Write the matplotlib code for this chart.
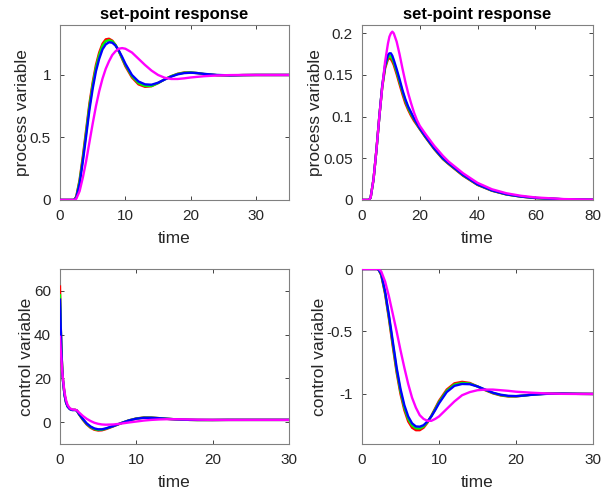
import matplotlib
matplotlib.use('Agg')
import matplotlib.pyplot as plt

plt.rcParams['font.family'] = ['Liberation Sans', 'DejaVu Sans']
plt.rcParams['font.size'] = 11

# colours of the four tunings, drawn in this order
colours = ['#ff0000', '#00ff00', '#0000ff', '#ff00ff']

# top left: set-point response, process variable
t_tl = [0, 2, 2.2, 2.5, 3, 3.5, 4, 4.5, 5, 5.5, 6, 6.5, 7, 7.5, 8, 8.5, 9, 9.5, 10,
        11, 12, 13, 14, 15, 16, 17, 18, 19, 20, 21, 22, 24, 26, 28, 30, 35]
pv_red = [0, 0, 0, 0.03, 0.16, 0.35, 0.56, 0.77, 0.94, 1.08, 1.18, 1.25, 1.285, 1.29, 1.275, 1.24, 1.19, 1.13, 1.07,
          0.98, 0.925, 0.905, 0.91, 0.935, 0.965, 0.99, 1.01, 1.02, 1.02, 1.015, 1.007, 0.998, 0.997, 0.999, 1.0, 1.0]
pv_green = [0, 0, 0, 0.025, 0.15, 0.33, 0.54, 0.75, 0.92, 1.06, 1.16, 1.235, 1.27, 1.278, 1.27, 1.24, 1.19, 1.135, 1.08,
            0.99, 0.935, 0.912, 0.912, 0.935, 0.965, 0.99, 1.008, 1.018, 1.02, 1.015, 1.008, 0.999, 0.997, 0.999, 1.0, 1.0]
pv_blue = [0, 0, 0, 0.02, 0.13, 0.31, 0.51, 0.72, 0.89, 1.03, 1.13, 1.205, 1.245, 1.262, 1.258, 1.235, 1.195, 1.145, 1.09,
           1.0, 0.948, 0.925, 0.922, 0.938, 0.963, 0.987, 1.005, 1.015, 1.018, 1.015, 1.009, 1.0, 0.997, 0.999, 1.0, 1.0]
pv_magenta = [0, 0, 0, 0.01, 0.07, 0.18, 0.31, 0.46, 0.61, 0.75, 0.87, 0.97, 1.05, 1.11, 1.16, 1.19, 1.21, 1.215, 1.21,
              1.18, 1.13, 1.08, 1.035, 1.0, 0.978, 0.968, 0.968, 0.973, 0.98, 0.985, 0.99, 0.996, 0.999, 1.0, 1.0, 1.0]

# top right: second set of process variable responses
t_tr = [0, 2.5, 3, 4, 5, 6, 7, 8, 9, 9.5, 10, 10.5, 11, 12, 13, 14, 15, 16, 17, 18, 19, 20,
        22, 25, 28, 30, 35, 40, 45, 50, 55, 60, 70, 80]
pv2_red = [0, 0, 0.003, 0.025, 0.06, 0.1, 0.135, 0.158, 0.169, 0.17, 0.169, 0.166, 0.162, 0.151, 0.139, 0.127,
           0.116, 0.108, 0.101, 0.095, 0.09, 0.085, 0.075, 0.061, 0.049, 0.043, 0.029, 0.018, 0.011, 0.0065,
           0.004, 0.0022, 0.0007, 0.0002]
pv2_green = [0, 0, 0.003, 0.025, 0.06, 0.1, 0.136, 0.16, 0.171, 0.173, 0.172, 0.169, 0.165, 0.154, 0.142, 0.13,
             0.119, 0.11, 0.103, 0.097, 0.091, 0.0855, 0.0755, 0.0615, 0.0495, 0.0435, 0.0295, 0.0183, 0.0112,
             0.0067, 0.004, 0.0023, 0.0007, 0.0002]
pv2_blue = [0, 0, 0.003, 0.025, 0.06, 0.1, 0.137, 0.162, 0.174, 0.176, 0.176, 0.173, 0.168, 0.157, 0.145, 0.132,
            0.121, 0.112, 0.105, 0.098, 0.092, 0.086, 0.076, 0.062, 0.05, 0.044, 0.03, 0.0186, 0.0114, 0.0068,
            0.0041, 0.0024, 0.0008, 0.0002]
pv2_magenta = [0, 0, 0.003, 0.025, 0.06, 0.1, 0.135, 0.166, 0.188, 0.196, 0.2, 0.202, 0.2, 0.19, 0.175, 0.158,
               0.142, 0.128, 0.116, 0.105, 0.096, 0.089, 0.079, 0.065, 0.053, 0.046, 0.032, 0.0205, 0.0128,
               0.008, 0.005, 0.003, 0.001, 0.0003]

# bottom left: control variable
t_bl = [0, 0.05, 0.1, 0.2, 0.3, 0.4, 0.6, 0.8, 1.0, 1.3, 1.6, 2.0, 2.2, 2.5, 3, 3.5, 4, 4.5, 5, 5.5, 6,
        7, 8, 9, 10, 11, 12, 13, 14, 15, 16, 17, 18, 20, 22, 25, 30]
cv_red = [62, 52.5, 44, 32, 24, 19, 12.5, 9, 7.2, 6, 5.6, 5.6, 5.3, 3.5, 1.0, -1.1, -2.6, -3.5, -3.85, -3.75, -3.25,
          -1.95, -0.55, 0.75, 1.65, 2.1, 2.05, 1.8, 1.5, 1.28, 1.1, 1.0, 0.95, 0.95, 1.0, 1.0, 1.0]
cv_green = [58, 52, 43.8, 31.8, 23.8, 18.9, 12.4, 9, 7.15, 5.95, 5.55, 5.55, 5.3, 3.6, 1.2, -0.85, -2.3, -3.2, -3.6,
            -3.5, -3.05, -1.85, -0.5, 0.72, 1.6, 2.02, 2.0, 1.78, 1.5, 1.29, 1.11, 1.01, 0.96, 0.95, 1.0, 1.0, 1.0]
cv_blue = [56, 51, 43.5, 31.5, 23.5, 18.7, 12.3, 8.9, 7.1, 5.9, 5.5, 5.5, 5.3, 3.7, 1.4, -0.6, -2.0, -2.9, -3.3,
           -3.3, -2.9, -1.8, -0.5, 0.7, 1.55, 1.95, 1.95, 1.75, 1.5, 1.3, 1.12, 1.02, 0.97, 0.96, 1.0, 1.0, 1.0]
cv_magenta = [39, 36, 33, 28, 23, 19.5, 13.5, 10, 7.8, 6.3, 5.8, 5.6, 5.4, 4.4, 2.8, 1.5, 0.5, -0.3, -0.8, -1.1, -1.2,
              -1.1, -0.7, -0.2, 0.25, 0.7, 1.0, 1.2, 1.3, 1.3, 1.25, 1.18, 1.1, 1.0, 0.98, 1.0, 1.0]

# bottom right: second control variable
t_br = [0, 2, 2.2, 2.5, 3, 3.5, 4, 4.5, 5, 5.5, 6, 6.5, 7, 7.5, 8, 8.5, 9, 9.5, 10,
        11, 12, 13, 14, 15, 16, 17, 18, 19, 20, 21, 22, 24, 26, 28, 30]
cv2_red = [0, 0, -0.01, -0.05, -0.2, -0.4, -0.62, -0.83, -1.0, -1.13, -1.22, -1.27, -1.29, -1.29, -1.27, -1.23,
           -1.175, -1.115, -1.055, -0.965, -0.915, -0.903, -0.912, -0.94, -0.97, -0.995, -1.012, -1.02, -1.02,
           -1.013, -1.005, -0.997, -0.997, -0.999, -1.0]
cv2_green = [0, 0, -0.01, -0.045, -0.19, -0.385, -0.6, -0.81, -0.98, -1.11, -1.2, -1.252, -1.275, -1.276, -1.26,
             -1.225, -1.178, -1.122, -1.065, -0.975, -0.925, -0.912, -0.917, -0.94, -0.967, -0.992, -1.009,
             -1.018, -1.018, -1.013, -1.006, -0.998, -0.997, -0.999, -1.0]
cv2_blue = [0, 0, -0.01, -0.04, -0.18, -0.37, -0.58, -0.79, -0.96, -1.09, -1.18, -1.235, -1.26, -1.262, -1.25,
            -1.22, -1.18, -1.13, -1.075, -0.985, -0.935, -0.92, -0.922, -0.94, -0.965, -0.99, -1.006, -1.015,
            -1.017, -1.013, -1.007, -0.999, -0.997, -0.999, -1.0]
cv2_magenta = [0, 0, 0, -0.02, -0.1, -0.22, -0.36, -0.5, -0.65, -0.79, -0.92, -1.03, -1.11, -1.17, -1.2, -1.215,
               -1.215, -1.2, -1.18, -1.12, -1.06, -1.01, -0.985, -0.97, -0.965, -0.965, -0.97, -0.975, -0.982,
               -0.986, -0.99, -0.996, -0.999, -1.0, -1.0]

panels = [
    (t_tl, [pv_red, pv_green, pv_blue, pv_magenta], (0, 35), (0, 1.4), [0, 10, 20, 30], [0, 0.5, 1],
     ['0', '0.5', '1'], 'process variable', 'set-point response'),
    (t_tr, [pv2_red, pv2_green, pv2_blue, pv2_magenta], (0, 80), (0, 0.21), [0, 20, 40, 60, 80],
     [0, 0.05, 0.1, 0.15, 0.2], ['0', '0.05', '0.1', '0.15', '0.2'], 'process variable', 'set-point response'),
    (t_bl, [cv_red, cv_green, cv_blue, cv_magenta], (0, 30), (-10, 70), [0, 10, 20, 30], [0, 20, 40, 60],
     ['0', '20', '40', '60'], 'control variable', None),
    (t_br, [cv2_red, cv2_green, cv2_blue, cv2_magenta], (0, 30), (-1.4, 0), [0, 10, 20, 30], [-1, -0.5, 0],
     ['-1', '-0.5', '0'], 'control variable', None),
]

# axes boxes in figure fractions
boxes = [
    [0.098, 0.592, 0.374, 0.357],
    [0.5915, 0.592, 0.3775, 0.357],
    [0.098, 0.094, 0.374, 0.357],
    [0.5915, 0.094, 0.3775, 0.357],
]

fig = plt.figure(figsize=(6.12, 4.9), dpi=100)
frame = '#262626'

for box, (t, series, xl, yl, xt, yt, ytl, ylab, title) in zip(boxes, panels):
    ax = fig.add_axes(box)
    for y, c in zip(series, colours):
        # lines sit on top of the frame, as in the original
        ax.plot(t, y, color=c, lw=1.7, zorder=3)
    ax.set_xlim(*xl)
    ax.set_ylim(*yl)
    ax.set_xticks(xt)
    ax.set_yticks(yt)
    ax.set_yticklabels(ytl)
    ax.set_xlabel('time', fontsize=12.5, labelpad=6, color=frame)
    ax.set_ylabel(ylab, fontsize=12.5, labelpad=0, color=frame)
    if title:
        ax.set_title(title, fontweight='bold', fontsize=12, pad=4)
    ax.tick_params(direction='in', top=True, right=True, length=3, width=0.6,
                   colors=frame, labelsize=11, pad=6.5)
    for s in ax.spines.values():
        s.set_color('#808080')
        s.set_linewidth(0.8)

fig.savefig('out.png', dpi=100)
